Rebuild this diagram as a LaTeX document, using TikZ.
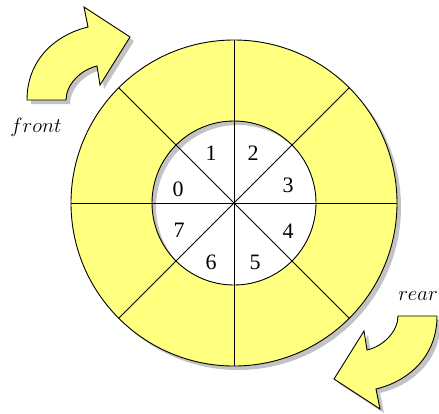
\documentclass[tikz,border=0pt]{standalone}
\usepackage{fontspec}
\setmainfont{Liberation Serif}
\definecolor{ringyellow}{RGB}{255,255,128}
\definecolor{shadowgrey}{RGB}{195,195,195}
\newcommand{\myarrowpath}{(27,100) .. controls (27,60) and (55,35) .. (88,27) -- (84,7) -- (130,37) -- (100,85) -- (97,66) .. controls (80,70) and (66,85) .. (66,100) -- cycle}
\begin{document}
\begin{tikzpicture}[x=1pt,y=-1pt,
  outline/.style={draw=black,line width=0.9pt},
  numlabel/.style={font=\fontsize{22}{22}\selectfont,inner sep=0pt},
  sidelabel/.style={font=\fontsize{21}{21}\selectfont,inner sep=0pt}]
\useasboundingbox (0,0) rectangle (439,413);
\coordinate (c) at (234,203);
% ring shadow
\fill[shadowgrey,even odd rule,shift={(4,4)}] (234,203) circle[radius=163] (234,203) circle[radius=82];
% ring
\fill[ringyellow,even odd rule] (c) circle[radius=163] (c) circle[radius=82];
\draw[outline] (c) circle[radius=163];
\draw[outline] (c) circle[radius=82];
% radial lines
\foreach \a in {0,45,...,315} {
  \draw[line width=0.9pt] (c) -- ++(\a:163);
}
% numbers
\node[numlabel] (n0) at (178,189) {0};
\node[numlabel] (n1) at (211,153) {1};
\node[numlabel] (n2) at (253,153) {2};
\node[numlabel] (n3) at (288,185) {3};
\node[numlabel] (n4) at (288,231) {4};
\node[numlabel] (n5) at (255,262) {5};
\node[numlabel] (n6) at (211,262) {6};
\node[numlabel] (n7) at (179,230) {7};
% front arrow
\begin{scope}[shift={(4,4)}]
  \fill[shadowgrey] \myarrowpath;
\end{scope}
\filldraw[fill=ringyellow,outline,line join=miter] \myarrowpath;
% rear arrow
\begin{scope}[shift={(4,4)}]
  \begin{scope}[rotate around={180:(232,208)}]
    \fill[shadowgrey] \myarrowpath;
  \end{scope}
\end{scope}
\begin{scope}[rotate around={180:(232,208)}]
  \filldraw[fill=ringyellow,outline,line join=miter] \myarrowpath;
\end{scope}
% labels
\node[sidelabel] (front) at (36,127) {$front$};
\node[sidelabel] (rear) at (418,296) {$rear$};
\end{tikzpicture}
\end{document}
